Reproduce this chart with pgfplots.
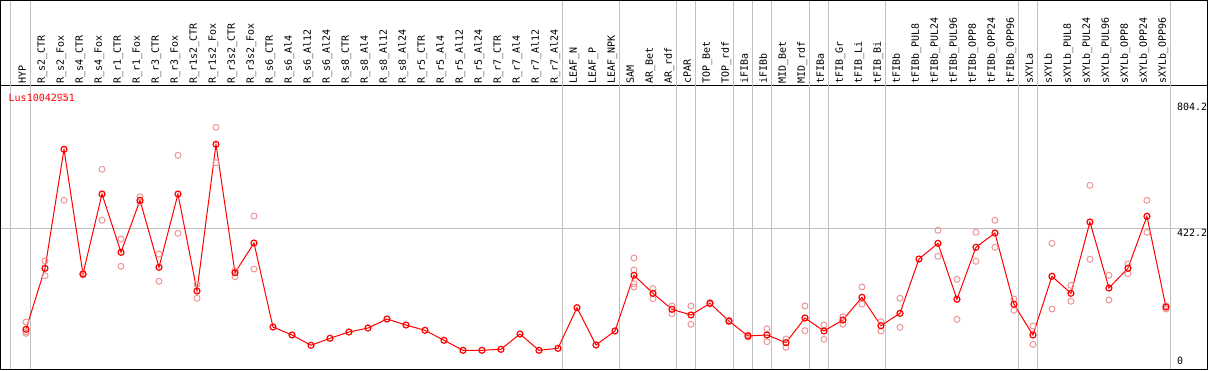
\documentclass[border=0pt]{standalone}
\usepackage{fontspec}
\usepackage{pgfplots}
\pgfplotsset{compat=1.18}
\usepackage{pgfplotstable}
\newfontfamily\monof{DejaVu Sans Mono}
\definecolor{lred}{RGB}{255,0,0}
\definecolor{rep}{RGB}{238,150,150}
\definecolor{gridg}{RGB}{192,192,192}

\pgfplotstableread{
x y
0 112.8
1 299.2
2 662.9
3 281.8
4 526.3
5 348.1
6 507.0
7 302.3
8 526.3
9 229.8
10 678.2
11 285.8
12 376.5
13 119.8
14 95.4
15 63.9
16 85.3
17 104.5
18 116.7
19 144.3
20 125.9
21 109.7
22 79.2
23 48.6
24 48.6
25 51.6
26 98.4
27 48.6
28 54.7
29 178.8
30 64.8
31 107.6
32 277.8
33 222.8
34 173.9
35 156.5
36 192.2
37 138.1
38 92.3
39 95.4
40 71.8
41 147.3
42 107.6
43 141.2
44 210.6
45 123.8
46 161.7
47 327.6
48 375.6
49 204.5
50 363.4
51 407.1
52 189.2
53 95.4
54 274.8
55 222.8
56 440.7
57 239.0
58 299.2
59 458.1
60 180.9
}\means

\pgfplotstableread{
x y
0 135.1
0 105.4
0 100.5
1 321.5
1 276.6
2 822.7
2 507.0
3 283.3
3 278.7
4 601.8
4 445.9
5 388.8
5 305.3
6 518.0
6 500.9
7 342.9
7 259.5
8 644.6
8 406.2
9 250.3
9 207.5
10 730.1
10 621.9
11 291.9
11 273.5
12 459.0
12 297.1
32 330.7
32 294.0
32 252.1
32 242.1
33 236.9
33 206.3
34 184.0
34 160.5
35 184.0
35 128.1
36 194.7
36 190.1
37 140.3
37 136.0
38 95.4
38 89.2
39 114.6
39 74.9
40 83.1
40 57.8
41 184.0
41 108.5
42 125.9
42 82.2
43 151.3
43 128.1
44 242.1
44 190.1
45 136.0
45 107.6
46 207.5
46 118.9
48 415.3
48 335.9
49 265.6
49 143.3
50 409.2
50 320.6
51 445.9
51 363.4
52 205.4
52 170.8
53 122.9
53 66.9
54 375.6
54 174.8
55 247.2
55 198.4
56 552.9
56 326.7
57 277.8
57 202.3
58 312.3
58 282.7
59 507.0
59 409.2
60 184.9
60 174.8
}\reps

\begin{document}
\begin{tikzpicture}
\begin{axis}[
  at={(0.5pt,1pt)}, anchor=south west,
  scale only axis, width=1207pt, height=284pt,
  xmin=-1.3421, xmax=62.1842, ymin=-8.557, ymax=859.41,
  clip=false,
  axis line style={black, line width=1pt},
  xtick={0,...,60},
  xticklabels={HYP,R\_s2\_CTR,R\_s2\_Fox,R\_s4\_CTR,R\_s4\_Fox,R\_r1\_CTR,R\_r1\_Fox,R\_r3\_CTR,R\_r3\_Fox,R\_r1s2\_CTR,R\_r1s2\_Fox,R\_r3s2\_CTR,R\_r3s2\_Fox,R\_s6\_CTR,R\_s6\_Al4,R\_s6\_Al12,R\_s6\_Al24,R\_s8\_CTR,R\_s8\_Al4,R\_s8\_Al12,R\_s8\_Al24,R\_r5\_CTR,R\_r5\_Al4,R\_r5\_Al12,R\_r5\_Al24,R\_r7\_CTR,R\_r7\_Al4,R\_r7\_Al12,R\_r7\_Al24,LEAF\_N,LEAF\_P,LEAF\_NPK,SAM,AR\_Bet,AR\_rdf,cPAR,TOP\_Bet,TOP\_rdf,iFIBa,iFIBb,MID\_Bet,MID\_rdf,tFIBa,tFIB\_Gr,tFIB\_Li,tFIB\_Bi,tFIBb,tFIBb\_PUL8,tFIBb\_PUL24,tFIBb\_PUL96,tFIBb\_OPP8,tFIBb\_OPP24,tFIBb\_OPP96,sXYLa,sXYLb,sXYLb\_PUL8,sXYLb\_PUL24,sXYLb\_PUL96,sXYLb\_OPP8,sXYLb\_OPP24,sXYLb\_OPP96},
  xticklabel pos=upper,
  xticklabel style={yshift=1.5pt, rotate=90, anchor=base west, inner sep=0pt, font=\monof\fontsize{10}{12}\selectfont},
  major tick length=0pt,
  ytick=\empty,
]
\pgfplotsinvokeforeach{-0.8,0.24,28.24,31.23,34.24,35.24,37.23,38.24,39.24,41.23,42.23,45.25,52.23,53.23,60.23}{
  \draw[gridg, line width=1pt] (axis cs:#1,-8.557) -- (axis cs:#1,1117.0);
}
\draw[gridg, line width=1pt] (axis cs:-1.3421,422.2) -- (axis cs:62.1842,422.2);

\addplot[only marks, mark=o, mark size=3pt, color=rep, mark options={line width=1pt}] table {\reps};
\addplot[lred, line width=1pt, mark=o, mark size=3pt, mark options={line width=1.2pt, solid}] table {\means};

\node[anchor=base west, inner sep=0pt, text=lred, font=\monof\fontsize{10}{12}\selectfont] at (axis cs:-0.921,810.5) {Lus10042951};
\node[anchor=base west, inner sep=0pt, font=\monof\fontsize{10}{12}\selectfont] at (axis cs:60.58,780.0) {804.2};
\node[anchor=base west, inner sep=0pt, font=\monof\fontsize{10}{12}\selectfont] at (axis cs:60.58,397.9) {422.2};
\node[anchor=base west, inner sep=0pt, font=\monof\fontsize{10}{12}\selectfont] at (axis cs:60.58,5.8) {0};

\draw[black, line width=1pt] (rel axis cs:0,0) rectangle (rel axis cs:1,1.2975);
\end{axis}
\pgfresetboundingbox
\path (0,0) rectangle (1209pt,370pt);
\end{tikzpicture}
\end{document}
